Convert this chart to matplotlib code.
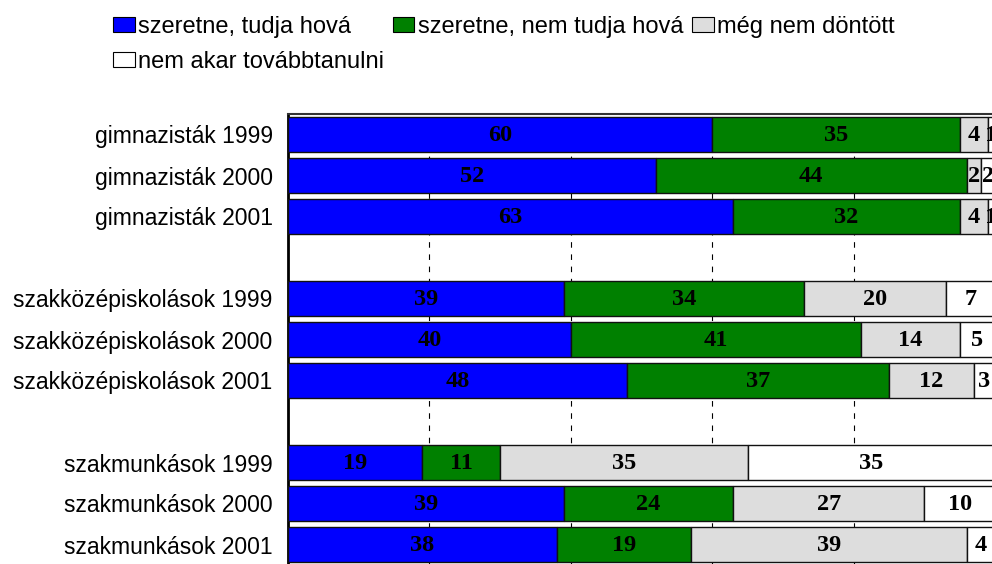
import matplotlib
matplotlib.use("Agg")
import matplotlib.pyplot as plt
from matplotlib.patches import Patch
import numpy as np

# data
categories = ["gimnazisták 1999", "gimnazisták 2000", "gimnazisták 2001",
              "szakközépiskolások 1999", "szakközépiskolások 2000", "szakközépiskolások 2001",
              "szakmunkások 1999", "szakmunkások 2000", "szakmunkások 2001"]
series_names = ["szeretne, tudja hová", "szeretne, nem tudja hová",
                "még nem döntött", "nem akar továbbtanulni"]
tudja = [60, 52, 63, 39, 40, 48, 19, 39, 38]
nem_tudja = [35, 44, 32, 34, 41, 37, 11, 24, 19]
nem_dontott = [4, 2, 4, 20, 14, 12, 35, 27, 39]
nem_akar = [1, 2, 1, 7, 5, 3, 35, 10, 4]

colors = ["#0000FF", "#008000", "#DDDDDD", "#FFFFFF"]

# rows with an empty slot between the groups
rows = [0, 1, 2, 4, 5, 6, 8, 9, 10]

plt.rcParams['font.family'] = ['Liberation Sans', 'DejaVu Sans']

fig = plt.figure(figsize=(9.92, 5.64), dpi=100)
ax = fig.add_axes([288 / 992, -1 / 564, 707 / 992, 451 / 564])

left = np.zeros(len(categories))
for vals, col in zip([tudja, nem_tudja, nem_dontott, nem_akar], colors):
    vals = np.array(vals, dtype=float)
    ax.barh(rows, vals, left=left, height=0.86, color=col,
            edgecolor="#111111", linewidth=1.0, zorder=3)
    for y, l, v in zip(rows, left, vals):
        ax.text(l + v / 2, y + 0.03, "%d" % v, ha="center", va="center",
                fontsize=17.5, fontweight="bold", family="Liberation Serif",
                color="black", zorder=4, clip_on=False)
    left += vals

ax.set_xlim(0, 100)
ax.set_ylim(10.5, -0.5)
ax.set_xticks([20, 40, 60, 80])
ax.set_xticklabels([])
ax.tick_params(axis="x", length=0)
ax.grid(axis="x", color="black", linestyle=(0, (5, 6)), linewidth=0.8, zorder=0)
ax.set_yticks(rows)
ax.set_yticklabels(categories, fontsize=16.5)
ax.tick_params(axis="y", length=0, pad=11)

ax.spines["left"].set_linewidth(2)
ax.spines["top"].set_linewidth(1.5)
ax.spines["top"].set_color("#333333")
ax.spines["bottom"].set_visible(False)
ax.spines["right"].set_visible(False)

handles = [Patch(facecolor=c, edgecolor="black", linewidth=0.8) for c in colors]
order = [0, 3, 1, 2]
fig.legend([handles[i] for i in order], [series_names[i] for i in order],
           loc="upper left", bbox_to_anchor=(113 / 992, 1 - 16 / 564),
           ncol=3, frameon=False, fontsize=17, handlelength=0.93,
           handleheight=0.6, handletextpad=0.13, columnspacing=0.36,
           labelspacing=0.56, borderaxespad=0, borderpad=0)

fig.savefig("out.png", dpi=100)
